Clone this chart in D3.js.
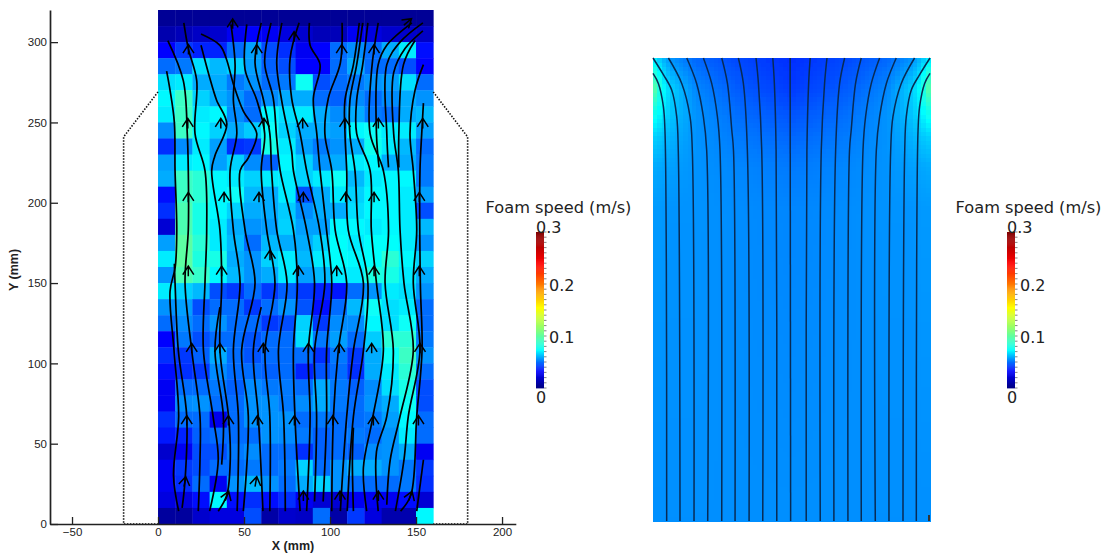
<!DOCTYPE html>
<html>
<head>
<meta charset="utf-8">
<script src="https://cdn.jsdelivr.net/npm/d3@7"></script>
<style>
html, body { margin: 0; padding: 0; background: #fff; }
svg { display: block; }
</style>
</head>
<body>
<svg id="chart"></svg>
<script>
const width = 1105;
const height = 553;

// measured foam speed (m/s), 10 mm cells, top row first
const measuredSpeed = [
    [.006,.006,.006,.006,.006,.006,.006,.006,.006,.006,.006,.006,.006,.006,.006,.006],
    [.012,.015,.018,.02,.03,.033,.03,.025,.02,.015,.015,.03,.025,.02,.02,.018],
    [.033,.042,.038,.038,.05,.058,.045,.04,.03,.033,.05,.055,.05,.06,.07,.035],
    [.05,.052,.068,.062,.066,.058,.048,.045,.033,.033,.05,.06,.05,.05,.045,.034],
    [.068,.07,.06,.06,.052,.056,.05,.052,.076,.045,.05,.052,.056,.058,.068,.05],
    [.072,.09,.066,.06,.056,.05,.055,.06,.06,.05,.048,.055,.05,.055,.06,.056],
    [.07,.09,.07,.072,.055,.05,.072,.068,.07,.06,.055,.06,.052,.05,.06,.062],
    [.055,.09,.072,.066,.06,.065,.075,.066,.06,.06,.058,.072,.075,.07,.07,.058],
    [.04,.055,.07,.058,.04,.042,.08,.07,.058,.052,.056,.06,.078,.07,.062,.05],
    [.058,.07,.072,.058,.066,.055,.048,.072,.066,.056,.06,.07,.072,.06,.06,.052],
    [.06,.09,.085,.072,.07,.066,.07,.07,.066,.07,.075,.062,.07,.072,.072,.052],
    [.035,.09,.085,.072,.075,.062,.06,.07,.045,.06,.07,.066,.072,.072,.07,.058],
    [.04,.095,.08,.072,.066,.06,.06,.065,.055,.06,.06,.068,.072,.072,.07,.045],
    [.022,.095,.08,.07,.06,.056,.058,.066,.058,.058,.072,.072,.07,.072,.07,.062],
    [.058,.1,.085,.07,.062,.05,.062,.06,.06,.066,.074,.07,.074,.074,.07,.056],
    [.07,.1,.082,.08,.06,.056,.066,.07,.062,.07,.074,.072,.074,.085,.072,.066],
    [.056,.095,.088,.072,.062,.056,.06,.07,.058,.062,.07,.07,.082,.08,.07,.06],
    [.07,.066,.062,.045,.042,.05,.042,.048,.042,.038,.036,.05,.056,.07,.068,.056],
    [.056,.058,.045,.05,.05,.042,.05,.056,.046,.035,.05,.062,.075,.068,.07,.05],
    [.05,.055,.05,.056,.05,.05,.042,.045,.066,.042,.055,.055,.072,.068,.075,.05],
    [.033,.052,.045,.05,.05,.046,.05,.05,.068,.052,.058,.05,.065,.085,.085,.052],
    [.04,.042,.048,.06,.05,.046,.05,.05,.05,.04,.052,.042,.06,.075,.09,.056],
    [.035,.04,.042,.055,.05,.05,.048,.05,.038,.046,.05,.04,.06,.07,.085,.05],
    [.03,.05,.05,.052,.048,.055,.052,.052,.05,.06,.052,.048,.055,.068,.08,.045],
    [.03,.055,.056,.05,.05,.056,.056,.052,.055,.06,.052,.05,.056,.06,.076,.045],
    [.04,.05,.05,.028,.05,.056,.056,.056,.05,.052,.05,.05,.052,.058,.072,.05],
    [.036,.038,.048,.05,.05,.05,.056,.055,.052,.048,.05,.052,.05,.056,.07,.05],
    [.02,.03,.045,.045,.052,.055,.05,.05,.04,.048,.05,.048,.055,.056,.06,.03],
    [.03,.042,.045,.05,.05,.052,.05,.052,.066,.05,.056,.06,.06,.056,.052,.042],
    [.03,.04,.05,.03,.056,.062,.056,.05,.06,.066,.056,.05,.05,.05,.052,.04],
    [.025,.025,.035,.072,.035,.04,.035,.04,.03,.022,.022,.03,.03,.03,.035,.022],
    [.008,.008,.02,.025,.025,.045,.01,.02,.018,.05,.01,.042,.025,.012,.012,.072]
];

// streamlines of the measured field, [x mm, y mm], bottom to top
const measuredLines = [
    [[12,8],[9,30],[12,67],[9.3,108],[7,145],[10,160],[10.9,183],[9.9,220],[9.5,250],[7,270],[5,282]],
    [[14,10],[15.7,27],[16.7,67],[11.8,108],[9.9,150],[9.5,162]],
    [[23.4,8],[24.4,40],[24.4,67],[19.6,108],[15.7,150],[17.6,183],[17.6,220],[17,243],[14.7,276],[5.7,301]],
    [[30,8],[35,40],[32,67],[26.4,108],[27.3,150],[28.3,183],[27.3,220],[21.5,243],[22.5,276],[17.6,296],[15,312]],
    [[37,37],[38,67],[33.1,108],[36,135]],
    [[35,8],[40,18],[42,40],[41,67],[36,108],[37,150],[36,183],[31.2,220],[33,229],[40,249],[34,264],[30,278],[25,298]],
    [[46,8],[46.7,67],[43.8,108],[47.7,150],[43.8,183],[41.9,220],[45.8,243],[43.8,264],[44.8,286],[42.4,311]],
    [[49.6,8],[52.5,67],[48.6,108],[56.4,150],[50.6,183],[47.7,220],[52.5,228],[57.4,243],[49.6,257],[43.8,274],[39.6,290],[36,298],[25,305]],
    [[61,8],[58.3,67],[55.4,108],[60,135]],
    [[65,8],[65,67],[62.2,108],[68,150],[63.2,183],[60,220],[62,243],[57.4,264],[50.6,283],[51.6,311]],
    [[74,8],[73,67],[70,108],[75,150],[69,183],[66,220],[65,243],[61.3,264],[56.4,287],[60,312]],
    [[82.6,8],[79.6,67],[78.7,108],[81,150],[78.7,183],[71,220],[69,240],[67,265],[62,287],[65.7,312]],
    [[86.4,8],[88.4,67],[87.4,108],[91,150],[86.4,183],[78.7,220],[77.7,232],[72,263],[69,287],[72,312]],
    [[91,14],[92.2,67],[91,108],[97,150],[94,183],[86.4,220],[82.6,243],[77.7,265],[76.8,290],[82,312]],
    [[96,14],[98,67],[98,108],[101,150],[98,183],[94.2,220],[92.3,243],[90.3,265],[94.2,286],[88.4,298],[88,312]],
    [[101,8],[102,67],[104.8,108],[109.7,150],[103,183],[101,220],[97,243],[99,265],[106,287],[107,312]],
    [[106,8],[109.7,67],[113.6,108],[119.4,150],[110.6,183],[109.7,220],[108.7,243],[108.7,264],[113.6,286],[117,312]],
    [[110,8],[113.6,67],[119.4,108],[122,150],[116.5,183],[114.5,220],[111.5,243],[111.6,264],[115.5,286],[119,312]],
    [[113.6,8],[113,40],[113.6,60]],
    [[121.3,8],[119.4,35],[124.6,65],[131,108],[127,150],[124,183],[123.3,220],[115.5,243],[115.5,264],[119,286],[122,312]],
    [[128,8],[127,45],[133,67],[136.8,108],[132,150],[134,183],[131,220],[123.3,243],[124.2,283],[128,312]],
    [[133,12],[135,40],[140.7,67],[148.4,108],[143,150],[140.7,183],[139.7,220],[137,243],[137,281],[143.6,296],[154,307]],
    [[138,8],[143,40],[145.5,67],[152.3,108],[148.4,150],[150.4,183],[148.4,220],[146.5,243],[149.4,270],[154.3,286]],
    [[141,8],[147,18],[150.4,67],[153.5,108],[152.5,150],[152.3,220],[153.3,243],[154.3,262]],
    [[150.4,8],[154.3,40]],
    [[128.5,222],[127,243],[128,286],[133,298],[147.6,312]],
    [[134,222],[133,243],[133,286],[140.7,300],[154,312]],
    [[140,222],[140,243],[142.7,286],[149.4,301]]
];

// arrow heads on those lines: [x mm, y mm, turn in degrees]
const measuredArrows = [
    [17.7,296,0],[43.4,312,0],[57.4,296,0],[79.1,304,0],[106.8,296,0],[125.6,296,0],[145.6,313,50],
    [17.3,250,0],[36.5,250,0],[61.6,250,0],[84.1,250,0],[108.7,250,0],[128.1,250,0],[153.9,250,0],
    [17.6,204,0],[38.4,204,0],[58.7,204,0],[84.5,204,0],[109.1,204,0],[125.6,204,0],[151.9,204,0],
    [65.1,168,0],
    [17.6,158,0],[37,158,0],[81.6,158,0],[103.9,158,0],[125.6,158,0],[151.9,158,0],
    [19.6,110,0],[36,110,0],[61.2,110,0],[87.4,110,0],[105.4,110,0],[124.2,110,0],[152.3,110,0],
    [16.7,65,0],[40.9,65,0],[57.8,65,0],[79.3,65,0],[101.6,65,0],[125.2,65,0],[151.4,65,0],
    [15.7,27,10],[57,27,10],[40.3,18,20],[84.5,18,0],[105.8,18,0],[128.1,18,0],[146.9,18,20]
];

// dotted outline of the cell around the measured window
const cellOutline = [[0,269],[-20,241],[-20,0],[0,0]];
const cellOutlineRight = [[160,269],[180,241],[180,0],[160,0]];

const xTicks = [-50, 0, 50, 100, 150, 200];
const yTicks = [0, 50, 100, 150, 200, 250, 300];

// simulated field, left half: rows by height, columns by distance from the wall
const simRowsY = [267.5, 250, 235, 222, 205, 180, 0];
const simColsX = [0, 5, 10, 25, 50, 80];
const simSpeed = [
    [.070,.062,.056,.049,.044,.040],
    [.105,.075,.066,.054,.047,.042],
    [.078,.070,.064,.056,.050,.046],
    [.066,.064,.061,.056,.052,.049],
    [.060,.059,.058,.056,.054,.052],
    [.057,.057,.056,.056,.055,.054],
    [.0555,.0555,.0555,.0555,.0555,.0555]
];

// simulated streamlines, left half (the right half is the mirror image)
const simLines = [
    [[0,258.6],[3.1,252.8],[6,239.4],[6.9,225.9],[7.7,150],[7.9,0]],
    [[0,267.5],[5.9,258],[10.8,249],[13.7,233.6],[14.6,214],[15.6,0]],
    [[8.9,267.5],[16.6,252.8],[21.4,233.6],[22.7,214.3],[23.7,0]],
    [[19.5,267.5],[25.2,252.8],[29.1,233.6],[31,214.3],[31.6,0]],
    [[29.1,267.5],[33.9,252.8],[37.2,233.6],[38.7,214.3],[39.7,0]],
    [[39.7,267.5],[43,252.8],[45.5,225.9],[46.5,214],[47.4,0]],
    [[49.3,267.5],[52.2,252.8],[54.5,214.3],[55.5,0]],
    [[59.5,267.5],[60.9,252.8],[62.8,214.3],[63.4,0]],
    [[69.2,267.5],[70.1,252.8],[71.1,214.3],[71.5,0]],
    [[79.2,267.5],[79.5,0]]
];

const colorStops = [0, .033, .073, .11, .155, .24, .3];
const colorValues = ["#00007f", "#0000ff", "#00ffff", "#80ff80", "#ffff00", "#ff0000", "#800000"];
const barTicks = [0, .1, .2, .3];

const color = d3.scaleLinear().domain(colorStops).range(colorValues);

const svg = d3.select("#chart")
    .attr("width", width)
    .attr("height", height)
    .style("font-family", "'Liberation Sans', Arial, sans-serif");

const defs = svg.append("defs");
defs.append("filter").attr("id", "soft")
    .attr("x", "-2%").attr("y", "-2%").attr("width", "104%").attr("height", "104%")
    .append("feGaussianBlur").attr("stdDeviation", 0.55);

// ---- left panel
const x = d3.scaleLinear().domain([-62.8, 208]).range([50, 515.8]);
const y = d3.scaleLinear().domain([0, 320]).range([524, 10]);

const left = svg.append("g");

const cellW = x(10) - x(0);
const cellH = y(0) - y(10);

const heat = left.append("g").attr("filter", "url(#soft)");
measuredSpeed.forEach((row, r) => {
    heat.selectAll(null)
        .data(row)
        .enter().append("rect")
        .attr("x", (d, i) => x(i * 10))
        .attr("y", y(320 - r * 10))
        .attr("width", cellW + 0.4)
        .attr("height", cellH + 0.4)
        .attr("fill", d => color(d));
});

const dotted = d3.line().x(d => x(d[0])).y(d => y(d[1]));
left.selectAll(".outline")
    .data([cellOutline, cellOutlineRight])
    .enter().append("path")
    .attr("class", "outline")
    .attr("d", dotted)
    .attr("fill", "none")
    .attr("stroke", "#111")
    .attr("stroke-width", 1.6)
    .attr("stroke-dasharray", "1.5 1.5");

const flow = d3.line().x(d => x(d[0])).y(d => y(d[1])).curve(d3.curveCatmullRom.alpha(0.5));
const lines = left.append("g").attr("filter", "url(#soft)");
lines.selectAll("path")
    .data(measuredLines)
    .enter().append("path")
    .attr("d", flow)
    .attr("fill", "none")
    .attr("stroke", "#000")
    .attr("stroke-width", 1.7);

lines.selectAll(".arrow")
    .data(measuredArrows)
    .enter().append("path")
    .attr("class", "arrow")
    .attr("transform", d => `translate(${x(d[0])},${y(d[1])}) rotate(${d[2]})`)
    .attr("d", "M-5.5,4.5L0,-4L5.5,4.5M0,-4L0,6")
    .attr("fill", "none")
    .attr("stroke", "#000")
    .attr("stroke-width", 1.5);

const xAxis = left.append("g")
    .attr("transform", `translate(0,${y(0)})`)
    .call(d3.axisBottom(x).tickValues(xTicks).tickSize(-7).tickSizeOuter(0).tickPadding(4));
const yAxis = left.append("g")
    .attr("transform", `translate(${x.range()[0]},0)`)
    .call(d3.axisLeft(y).tickValues(yTicks).tickSize(-8).tickSizeOuter(0).tickPadding(3));

[xAxis, yAxis].forEach(a => {
    a.selectAll("path").attr("stroke", "#222").attr("stroke-width", 1.7);
    a.selectAll("line").attr("stroke", "#222").attr("stroke-width", 1.3);
    a.selectAll("text")
        .attr("fill", "#222")
        .style("font-family", "'Liberation Sans', Arial, sans-serif")
        .style("font-size", "11.5px");
});

left.append("text")
    .attr("x", 293).attr("y", 550)
    .attr("text-anchor", "middle")
    .attr("font-size", 12.5).attr("font-weight", "bold").attr("fill", "#222")
    .text("X (mm)");
left.append("text")
    .attr("transform", "translate(18,270) rotate(-90)")
    .attr("text-anchor", "middle")
    .attr("font-size", 12.5).attr("font-weight", "bold").attr("fill", "#222")
    .text("Y (mm)");

// ---- right panel
const xSim = d3.scaleLinear().domain([0, 160]).range([653, 930]);
const ySim = d3.scaleLinear().domain([0, 267.5]).range([521, 58]);

// look up the simulated table between its rows and columns
function simAt(mm, h) {
    const dist = Math.min(mm, 160 - mm);
    const ci = Math.max(0, d3.bisectRight(simColsX, dist) - 1);
    const cj = Math.min(simColsX.length - 1, ci + 1);
    let ri = 0;
    while (ri < simRowsY.length - 2 && h < simRowsY[ri + 1]) ri++;
    const rj = ri + 1;
    const tc = cj === ci ? 0 : (dist - simColsX[ci]) / (simColsX[cj] - simColsX[ci]);
    const tr = (simRowsY[ri] - h) / (simRowsY[ri] - simRowsY[rj]);
    const a = simSpeed[ri][ci] + (simSpeed[ri][cj] - simSpeed[ri][ci]) * tc;
    const b = simSpeed[rj][ci] + (simSpeed[rj][cj] - simSpeed[rj][ci]) * tc;
    return a + (b - a) * tr;
}

const right = svg.append("g");
const field = right.append("g").attr("filter", "url(#soft)");
const stepX = 2.5;
const stepY = 2.5;
const fineCells = d3.cross(d3.range(0, 160, stepX), d3.range(0, 267.5, stepY));
field.selectAll("rect")
    .data(fineCells)
    .enter().append("rect")
    .attr("x", d => xSim(d[0]))
    .attr("y", d => ySim(Math.min(d[1] + stepY, 267.5)))
    .attr("width", xSim(stepX) - xSim(0) + 0.5)
    .attr("height", ySim(0) - ySim(stepY) + 0.5)
    .attr("shape-rendering", "crispEdges")
    .attr("fill", d => color(simAt(d[0] + stepX / 2, d[1] + stepY / 2)));

const simFlow = d3.line().x(d => xSim(d[0])).y(d => ySim(d[1])).curve(d3.curveCatmullRom.alpha(0.5));
const mirrored = simLines.slice(0, 9).map(l => l.map(p => [160 - p[0], p[1]]));
right.selectAll(".sim")
    .data(simLines.concat(mirrored))
    .enter().append("path")
    .attr("class", "sim")
    .attr("d", simFlow)
    .attr("fill", "none")
    .attr("stroke", "#082b55")
    .attr("stroke-width", 1.5);

// ---- colour bars
function drawBar(barX, titleX) {
    const bar = svg.append("g");
    const yBar = d3.scaleLinear().domain([0, .3]).range([388, 232]);
    bar.selectAll("rect")
        .data(d3.range(0, .3, .002))
        .enter().append("rect")
        .attr("x", barX).attr("width", 8)
        .attr("y", d => yBar(d + .002))
        .attr("height", yBar(0) - yBar(.002) + 0.4)
        .attr("fill", d => color(d + .001));
    bar.selectAll("line")
        .data(d3.range(0, .3001, .01))
        .enter().append("line")
        .attr("x1", barX + 8).attr("x2", barX + 10.5)
        .attr("y1", d => yBar(d)).attr("y2", d => yBar(d))
        .attr("stroke", "#777").attr("stroke-width", 0.9);
    bar.append("text")
        .attr("x", titleX).attr("y", 213)
        .attr("text-anchor", "middle")
        .style("font-family", "'DejaVu Sans', sans-serif")
        .attr("font-size", 16.2).attr("fill", "#222")
        .text("Foam speed (m/s)");
    bar.selectAll(".lab")
        .data(barTicks)
        .enter().append("text")
        .attr("class", "lab")
        .attr("x", d => (d === 0 || d === .3) ? barX : barX + 13)
        .attr("y", d => d === 0 ? 403 : d === .3 ? 233 : yBar(d) + 7)
        .style("font-family", "'DejaVu Sans', sans-serif")
        .attr("font-size", 16).attr("fill", "#222")
        .text(d => d);
}
drawBar(536, 558.5);
drawBar(1007, 1028.5);

// small dark mark at the lower right corner of the simulated panel
right.append("rect")
    .attr("x", xSim(160) - 2).attr("y", ySim(0) - 6)
    .attr("width", 2).attr("height", 6)
    .attr("fill", "#333");
</script>
</body>
</html>
